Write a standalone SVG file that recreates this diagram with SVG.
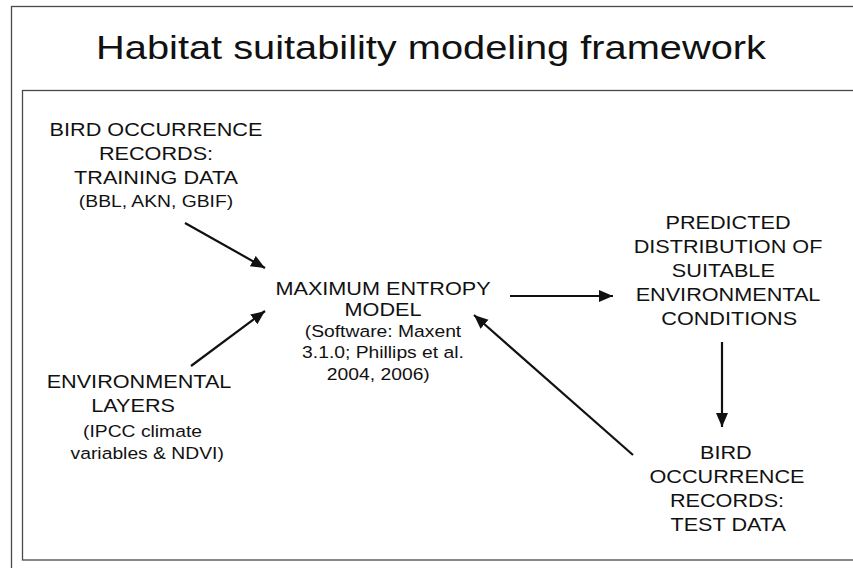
<svg xmlns="http://www.w3.org/2000/svg" width="853" height="568" viewBox="0 0 853 568">
  <style>
    .frame { fill: none; stroke: #4a4a4a; stroke-width: 1.3; }
    .title { font-family: "Liberation Sans", Arial, sans-serif; font-size: 34px; fill: #111; text-anchor: middle; }
    .lbl { font-family: "Liberation Sans", Arial, sans-serif; font-size: 18.5px; fill: #111; text-anchor: middle; }
    .sub { font-family: "Liberation Sans", Arial, sans-serif; font-size: 16.5px; fill: #111; text-anchor: middle; }
    .edge { fill: none; stroke: #111; stroke-width: 2.2; }
  </style>
  <defs>
    <marker id="arrow" markerUnits="userSpaceOnUse" markerWidth="16" markerHeight="14" refX="14" refY="6" orient="auto">
      <path d="M0,0 L14,6 L0,12 Z" fill="#111"/>
    </marker>
  </defs>

  <rect width="853" height="568" fill="#ffffff"/>

  <!-- outer slide frame and inner panel -->
  <rect class="frame" x="11.5" y="6.5" width="850" height="570"/>
  <rect class="frame" x="22.5" y="90.5" width="840" height="469.5"/>

  <g id="title" transform="translate(431,0) scale(1.17,1)">
    <text class="title" x="0" y="59">Habitat suitability modeling framework</text>
  </g>

  <g id="training-data" transform="translate(156,0) scale(1.17,1)">
    <text class="lbl" x="0" y="136">BIRD OCCURRENCE</text>
    <text class="lbl" x="0" y="160">RECORDS:</text>
    <text class="lbl" x="0" y="184">TRAINING DATA</text>
    <text class="sub" x="0" y="207">(BBL, AKN, GBIF)</text>
  </g>

  <g id="environmental-layers" transform="translate(139,0) scale(1.17,1)">
    <text class="lbl" x="0" y="388">ENVIRONMENTAL</text>
    <text class="lbl" x="-5" y="412">LAYERS</text>
    <text class="sub" x="3" y="437">(IPCC climate</text>
    <text class="sub" x="7" y="459">variables &amp; NDVI)</text>
  </g>

  <g id="maxent-model" transform="translate(383,0) scale(1.17,1)">
    <text class="lbl" x="0" y="295.5">MAXIMUM ENTROPY</text>
    <text class="lbl" x="0" y="316.5">MODEL</text>
    <text class="sub" x="0" y="337.5">(Software: Maxent</text>
    <text class="sub" x="0" y="358.5">3.1.0; Phillips et al.</text>
    <text class="sub" x="-4" y="380">2004, 2006)</text>
  </g>

  <g id="predicted-distribution" transform="translate(728,0) scale(1.17,1)">
    <text class="lbl" x="0" y="229">PREDICTED</text>
    <text class="lbl" x="0" y="253">DISTRIBUTION OF</text>
    <text class="lbl" x="-4" y="277">SUITABLE</text>
    <text class="lbl" x="0" y="301">ENVIRONMENTAL</text>
    <text class="lbl" x="1" y="325">CONDITIONS</text>
  </g>

  <g id="test-data" transform="translate(727,0) scale(1.17,1)">
    <text class="lbl" x="-1" y="459.5">BIRD</text>
    <text class="lbl" x="0" y="483.5">OCCURRENCE</text>
    <text class="lbl" x="0" y="507">RECORDS:</text>
    <text class="lbl" x="1" y="531">TEST DATA</text>
  </g>

  <g id="connectors">
    <line class="edge" x1="185" y1="223" x2="265" y2="268" marker-end="url(#arrow)"/>
    <line class="edge" x1="191" y1="366" x2="265" y2="311" marker-end="url(#arrow)"/>
    <line class="edge" x1="510" y1="296" x2="613" y2="296" marker-end="url(#arrow)"/>
    <line class="edge" x1="633" y1="455" x2="474" y2="315" marker-end="url(#arrow)"/>
    <line class="edge" x1="722" y1="342" x2="722" y2="427" marker-end="url(#arrow)"/>
  </g>
</svg>
